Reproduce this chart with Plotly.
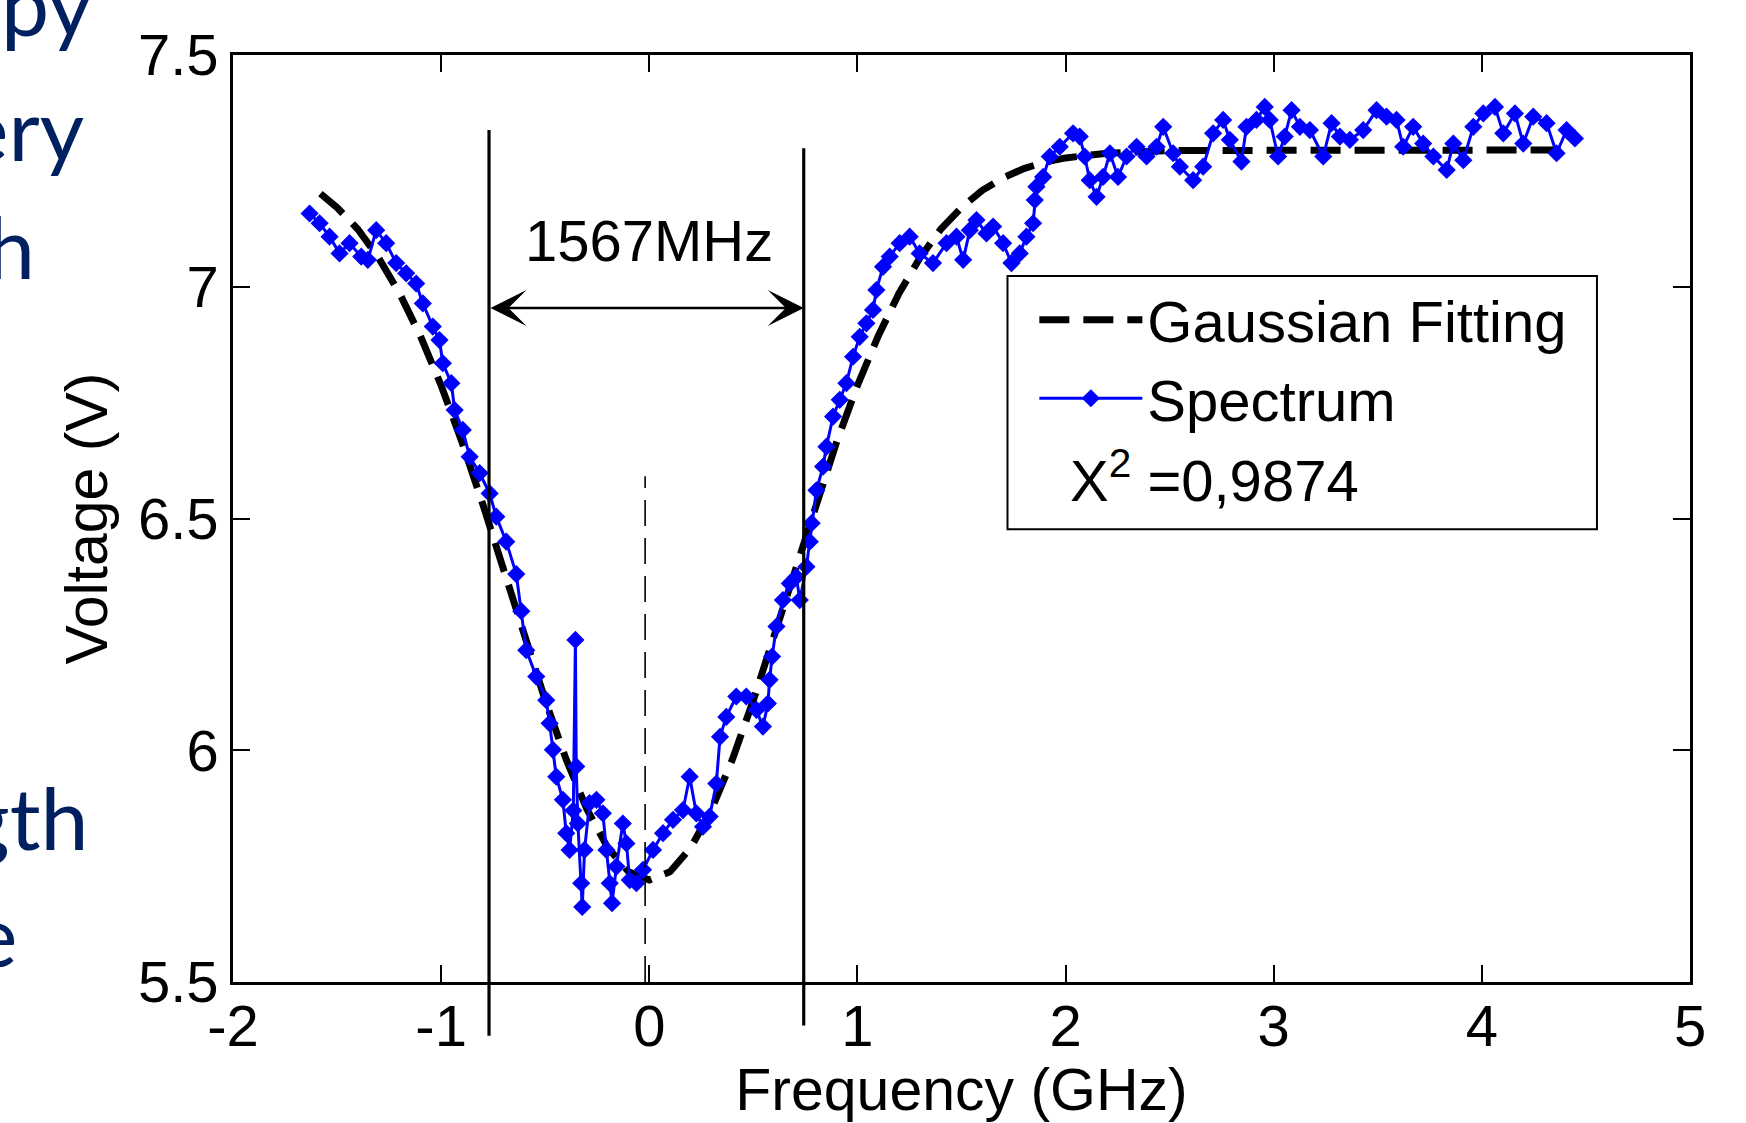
import plotly.graph_objs as go

# Gaussian fit
fit_freq = [-1.58, -1.5, -1.4, -1.3, -1.2, -1.1, -1.0, -0.9, -0.8, -0.7, -0.6, -0.5, -0.4, -0.3, -0.2, -0.1,
            0.0, 0.1, 0.2, 0.3, 0.4, 0.5, 0.6, 0.7, 0.8, 0.9, 1.0, 1.1, 1.2, 1.3, 1.4, 1.5, 1.6, 1.7, 1.8,
            1.9, 2.0, 2.2, 2.5, 3.0, 3.5, 4.0, 4.43]
fit_volt = [7.201, 7.171, 7.124, 7.062, 6.986, 6.894, 6.787, 6.665, 6.531, 6.390, 6.247, 6.108, 5.981, 5.873,
            5.790, 5.738, 5.720, 5.738, 5.790, 5.873, 5.981, 6.108, 6.247, 6.390, 6.531, 6.665, 6.787, 6.894,
            6.986, 7.062, 7.124, 7.171, 7.208, 7.235, 7.255, 7.269, 7.278, 7.288, 7.294, 7.295, 7.295, 7.295,
            7.295]

# measured spectrum
spec_freq = [-1.632, -1.584, -1.536, -1.488, -1.440, -1.384, -1.352, -1.312, -1.264, -1.216, -1.168, -1.120,
             -1.088, -1.040, -1.008, -0.992, -0.951, -0.935, -0.896, -0.863, -0.815, -0.767, -0.735, -0.687,
             -0.639, -0.615, -0.591, -0.543, -0.495, -0.479, -0.463, -0.447, -0.415, -0.399, -0.383, -0.365,
             -0.355, -0.351, -0.343, -0.327, -0.322, -0.311, -0.287, -0.254, -0.223, -0.206, -0.190, -0.179,
             -0.158, -0.127, -0.110, -0.094, -0.062, -0.030, 0.018, 0.066, 0.114, 0.162, 0.194, 0.226, 0.258,
             0.290, 0.322, 0.340, 0.370, 0.418, 0.466, 0.515, 0.546, 0.570, 0.578, 0.590, 0.611, 0.642, 0.675,
             0.707, 0.723, 0.755, 0.771, 0.780, 0.803, 0.835, 0.851, 0.883, 0.915, 0.947, 0.979, 1.011, 1.043,
             1.075, 1.091, 1.123, 1.155, 1.203, 1.251, 1.299, 1.363, 1.428, 1.476, 1.508, 1.540, 1.572, 1.620,
             1.652, 1.700, 1.740, 1.780, 1.812, 1.844, 1.852, 1.860, 1.892, 1.924, 1.972, 2.036, 2.068, 2.092,
             2.116, 2.149, 2.180, 2.213, 2.252, 2.293, 2.341, 2.389, 2.437, 2.469, 2.517, 2.549, 2.613, 2.661,
             2.709, 2.757, 2.789, 2.845, 2.869, 2.917, 2.957, 2.981, 3.021, 3.053, 3.086, 3.126, 3.174, 3.238,
             3.278, 3.318, 3.366, 3.430, 3.494, 3.542, 3.590, 3.622, 3.670, 3.718, 3.767, 3.831, 3.863, 3.911,
             3.959, 4.007, 4.063, 4.103, 4.159, 4.199, 4.247, 4.311, 4.359, 4.407, 4.447]
spec_volt = [7.158, 7.137, 7.108, 7.072, 7.094, 7.065, 7.058, 7.122, 7.094, 7.051, 7.029, 7.007,
             6.964, 6.914, 6.885, 6.835, 6.792, 6.734, 6.691, 6.633, 6.598, 6.554, 6.504, 6.450,
             6.380, 6.300, 6.216, 6.159, 6.108, 6.058, 6.001, 5.943, 5.893, 5.821, 5.785, 5.870,
             6.238, 5.965, 5.842, 5.713, 5.662, 5.785, 5.886, 5.893, 5.864, 5.785, 5.713, 5.670,
             5.749, 5.842, 5.799, 5.720, 5.713, 5.742, 5.785, 5.821, 5.850, 5.871, 5.943, 5.864, 5.835,
             5.857, 5.928, 6.029, 6.072, 6.116, 6.116, 6.087, 6.051, 6.101, 6.152, 6.202, 6.267, 6.324, 6.360,
             6.374, 6.324, 6.396, 6.450, 6.490, 6.561, 6.612, 6.655, 6.720, 6.756, 6.792, 6.849, 6.892, 6.921,
             6.950, 6.993, 7.043, 7.065, 7.094, 7.108, 7.072, 7.051, 7.094, 7.108, 7.058, 7.122, 7.144, 7.115,
             7.130, 7.094, 7.051, 7.072, 7.108, 7.137, 7.187, 7.216, 7.237, 7.281, 7.302, 7.331, 7.324, 7.281,
             7.230, 7.194, 7.237, 7.288, 7.237, 7.281, 7.302, 7.281, 7.302, 7.345, 7.288, 7.259, 7.230, 7.259,
             7.331, 7.360, 7.317, 7.270, 7.345, 7.360, 7.388, 7.360, 7.281, 7.324, 7.381, 7.345, 7.338, 7.281,
             7.353, 7.324, 7.317, 7.338, 7.381, 7.367, 7.360, 7.302, 7.345, 7.309, 7.281, 7.252, 7.309, 7.273,
             7.345, 7.374, 7.388, 7.331, 7.374, 7.309, 7.367, 7.353, 7.288, 7.338, 7.320]

x_ticks = [-2, -1, 0, 1, 2, 3, 4, 5]
x_tick_text = ["-2", "-1", "0", "1", "2", "3", "4", "5"]
y_ticks = [5.5, 6, 6.5, 7, 7.5]
y_tick_text = ["5.5", "6", "6.5", "7", "7.5"]

# FWHM markers: position, bottom, top
fwhm_left = [-0.770, 5.384, 7.338]
fwhm_right = [0.742, 5.406, 7.299]
centre_line = [-0.02, 5.5, 6.591]
arrow_volt = 6.954
width_label = "1567MHz"
chi_label = "X<sup>2</sup> =0,9874"

X_RANGE = [-2, 5]
Y_RANGE = [5.5, 7.5]
FONT = "Liberation Sans, Arial, sans-serif"


def y_paper(v):
    return (v - Y_RANGE[0]) / (Y_RANGE[1] - Y_RANGE[0])


fig = go.Figure()

fig.add_trace(go.Scatter(x=fit_freq, y=fit_volt, mode="lines", name="Gaussian Fitting",
                         line=dict(color="black", width=7, dash="30px,14px")))
fig.add_trace(go.Scatter(x=spec_freq, y=spec_volt, mode="lines+markers", name="Spectrum",
                         line=dict(color="#0000ff", width=3),
                         marker=dict(symbol="diamond", size=14, color="#0000ff")))

# FWHM lines stick out below the axis, so use paper y
for xv, lo, hi in [fwhm_left, fwhm_right]:
    fig.add_shape(type="line", xref="x", yref="paper", x0=xv, x1=xv, y0=y_paper(lo), y1=y_paper(hi),
                  line=dict(color="black", width=3.2))
fig.add_shape(type="line", xref="x", yref="y", x0=centre_line[0], x1=centre_line[0],
              y0=centre_line[1], y1=centre_line[2], line=dict(color="black", width=1.6, dash="26px,12px"))

# legend frame
fig.add_shape(type="rect", xref="x", yref="y", x0=1.721, x1=4.553, y0=6.477, y1=7.023,
              line=dict(color="black", width=2), fillcolor="white", layer="above")

fig.add_annotation(x=fwhm_right[0], y=arrow_volt, ax=fwhm_left[0], ay=arrow_volt, axref="x", ayref="y",
                   xref="x", yref="y", text="", showarrow=True, arrowside="end+start",
                   arrowhead=3, startarrowhead=3, arrowsize=2.4, startarrowsize=2.4, arrowwidth=2.5,
                   arrowcolor="black", standoff=0, startstandoff=0)
fig.add_annotation(x=0.0, y=7.10, xref="x", yref="y", text=width_label, showarrow=False,
                   font=dict(family=FONT, size=58, color="black"))
fig.add_annotation(x=2.01, y=6.59, xref="x", yref="y", text=chi_label, showarrow=False,
                   xanchor="left", font=dict(family=FONT, size=58, color="black"))

# slide text cut off at the left edge
slide_words = ["py", "ery", "h", "gth", "e"]
slide_x = [-0.0951, -0.1006, -0.1342, -0.0978, -0.1466]
slide_y = [1.057, 0.922, 0.795, 0.178, 0.052]
for w, sx, sy in zip(slide_words, slide_x, slide_y):
    fig.add_annotation(x=sx, y=sy, xref="paper", yref="paper", text=w, showarrow=False,
                       xanchor="right", yanchor="middle",
                       font=dict(family="Lato, Open Sans, sans-serif", size=86, color="#002060"))

axis_common = dict(showline=True, linecolor="black", linewidth=2.5, mirror="ticks", ticks="inside",
                   ticklen=17, tickwidth=1.5, tickcolor="black", showgrid=False, zeroline=False,
                   tickfont=dict(family=FONT, size=58, color="black"))

fig.update_layout(
    width=1746, height=1123,
    margin=dict(l=233, r=56, t=55, b=141),
    paper_bgcolor="white", plot_bgcolor="white",
    font=dict(family=FONT, size=58, color="black"),
    showlegend=True,
    legend=dict(x=0.55, y=0.762, xanchor="left", yanchor="top", bgcolor="rgba(0,0,0,0)",
                borderwidth=0, itemwidth=103, font=dict(family=FONT, size=58, color="black")),
    xaxis=dict(range=X_RANGE, tickvals=x_ticks, ticktext=x_tick_text, ticklabelstandoff=-8,
               title=dict(text="Frequency (GHz)", standoff=10, font=dict(family=FONT, size=59)),
               **axis_common),
    yaxis=dict(range=Y_RANGE, tickvals=y_ticks, ticktext=y_tick_text,
               title=dict(text="Voltage (V)", standoff=12, font=dict(family=FONT, size=59)),
               **axis_common),
)

fig.write_html("out.html", config={"displayModeBar": False},
               post_script="document.body.style.margin='0';document.body.style.overflow='hidden';")
